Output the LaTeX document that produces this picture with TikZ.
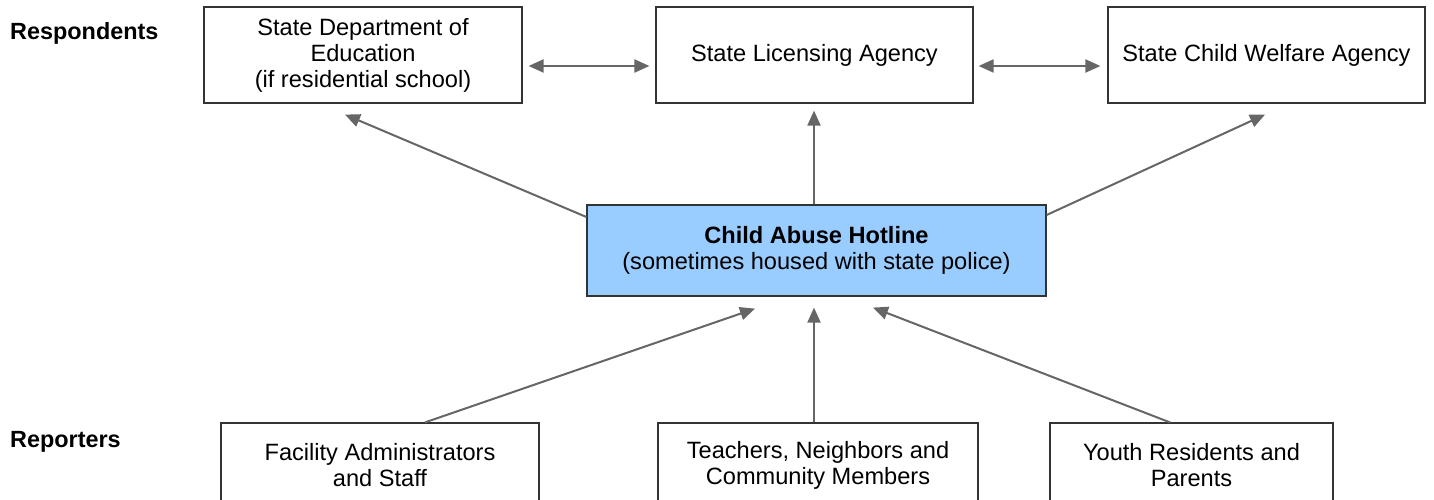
\documentclass[tikz,border=0pt]{standalone}
\usepackage{fontspec}
\setmainfont{Liberation Sans}
\usetikzlibrary{arrows.meta,calc}
\definecolor{hotblue}{HTML}{99CCFF}
\definecolor{arrgray}{HTML}{666666}
\begin{document}
\begin{tikzpicture}[x=1pt,y=-1pt,
  box/.style={draw=black!80,line width=1.2pt,fill=white,align=center,inner sep=0pt,
    font=\fontsize{23.6}{26}\selectfont},
  conn/.style={draw=arrgray,line width=2pt,-{Triangle[length=15pt,width=13pt]}},
  biconn/.style={draw=arrgray,line width=2pt,{Triangle[length=15pt,width=13pt]}-{Triangle[length=15pt,width=13pt]}},
  lbl/.style={font=\fontsize{23.4}{26}\selectfont\bfseries,anchor=west,inner sep=0pt}]
\clip (0,0) rectangle (1434,500);
\fill[white] (0,0) rectangle (1434,500);
\node[lbl] (resp) at (10,33) {Respondents};
\node[lbl] (rep) at (10,442) {Reporters};
\node[box,minimum width=318pt,minimum height=96pt] (A) at (363,55) {State Department of\\Education\\(if residential school)};
\node[box,minimum width=317pt,minimum height=96pt] (B) at (814.5,55) {State Licensing Agency};
\node[box,minimum width=317pt,minimum height=96pt] (C) at (1266.5,55) {State Child Welfare Agency};
\node[box,fill=hotblue,minimum width=459pt,minimum height=91pt] (H) at (816.5,250.5) {\textbf{Child Abuse Hotline}\\(sometimes housed with state police)};
\node[box,minimum width=318pt,minimum height=84pt] (F) at (380,465) {Facility Administrators\\and Staff};
\node[box,minimum width=320pt,minimum height=84pt] (T) at (818,465) {Teachers, Neighbors and\\Community Members};
\node[box,minimum width=283pt,minimum height=84pt] (Y) at (1191.5,465) {Youth Residents and\\Parents};
\draw[biconn] ($(A.east)+(6,11)$) -- ($(B.west)+(-6,11)$);
\draw[biconn] ($(B.east)+(5,11)$) -- ($(C.west)+(-7,11)$);
\draw[conn] ($(H.west)+(0,-33.5)$) -- ($(A.south)+(-18,11)$);
\draw[conn] ($(H.north)+(-2.5,0)$) -- ($(B.south)+(-0.5,7)$);
\draw[conn] ($(H.east)+(0,-35.5)$) -- ($(C.south)+(-1.5,11)$);
\draw[conn] ($(F.north)+(45,0)$) -- ($(H.south)+(-61.5,12)$);
\draw[conn] ($(T.north)+(-4,0)$) -- ($(H.south)+(-2.5,11)$);
\draw[conn] ($(Y.north)+(-21.5,0)$) -- ($(H.south)+(56.5,11)$);
\end{tikzpicture}
\end{document}
